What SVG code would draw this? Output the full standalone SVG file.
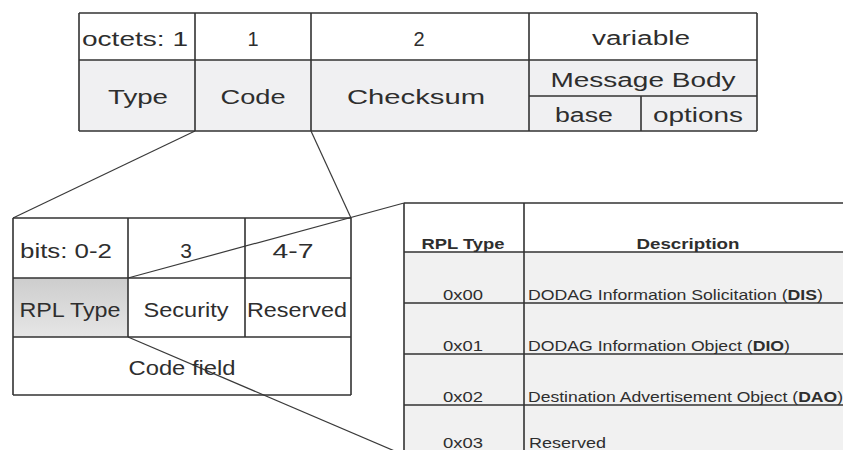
<svg xmlns="http://www.w3.org/2000/svg" width="843" height="450" viewBox="0 0 843 450">
<defs>
<style>
.ln{stroke:#333;stroke-width:1.6;fill:none}
.cn{stroke:#3a3a3a;stroke-width:1.2;fill:none}
.t{font-family:"Liberation Sans",Arial,sans-serif;fill:#2e2e2e;text-anchor:middle}
.big{font-size:20px}
.mid{font-size:21px}
.sm{font-size:15px}
.b{font-weight:bold}
.st{text-anchor:start}
</style>
<linearGradient id="gr" x1="0" y1="0" x2="0" y2="1">
<stop offset="0" stop-color="#cdcdcd"/>
<stop offset="1" stop-color="#e6e6e6"/>
</linearGradient>
</defs>
<rect width="843" height="450" fill="#fff"/>

<g id="connectors">
<line class="cn" x1="195" y1="131" x2="13" y2="218"/>
<line class="cn" x1="311" y1="131" x2="351" y2="218"/>
<line class="cn" x1="128" y1="278" x2="404" y2="203"/>
<line class="cn" x1="128" y1="337" x2="404" y2="455"/>
</g>

<g id="icmp-header">
<rect x="79" y="60" width="678" height="71" fill="#f0f0f2"/>
<path class="ln" d="M79 13H757M79 60H757M79 131H757M529 96H757M79 13V131M195 13V131M311 13V131M529 13V131M757 13V131M641 96V131"/>
<text class="t big" x="135" y="46" textLength="106" lengthAdjust="spacingAndGlyphs">octets: 1</text>
<text class="t big" x="253" y="46">1</text>
<text class="t big" x="419" y="46">2</text>
<text class="t big" x="641" y="45" textLength="98" lengthAdjust="spacingAndGlyphs">variable</text>
<text class="t big" x="138" y="104" textLength="60" lengthAdjust="spacingAndGlyphs">Type</text>
<text class="t big" x="253" y="104" textLength="65" lengthAdjust="spacingAndGlyphs">Code</text>
<text class="t big" x="416" y="104" textLength="138" lengthAdjust="spacingAndGlyphs">Checksum</text>
<text class="t big" x="643" y="87" textLength="185" lengthAdjust="spacingAndGlyphs">Message Body</text>
<text class="t big" x="584" y="122" textLength="58" lengthAdjust="spacingAndGlyphs">base</text>
<text class="t big" x="698" y="122" textLength="90" lengthAdjust="spacingAndGlyphs">options</text>
</g>

<g id="code-field">
<rect x="13" y="278" width="115" height="59" fill="url(#gr)"/>
<path class="ln" d="M13 218H351M13 278H351M13 337H351M13 395H351M13 218V395M351 218V395M128 218V337M245 218V337"/>
<text class="t mid" x="66" y="258" textLength="92" lengthAdjust="spacingAndGlyphs">bits: 0-2</text>
<text class="t mid" x="186" y="258">3</text>
<text class="t mid" x="293" y="258" textLength="41" lengthAdjust="spacingAndGlyphs">4-7</text>
<text class="t mid" x="70" y="317" textLength="101" lengthAdjust="spacingAndGlyphs">RPL Type</text>
<text class="t mid" x="186" y="317" textLength="85" lengthAdjust="spacingAndGlyphs">Security</text>
<text class="t mid" x="297" y="317" textLength="100" lengthAdjust="spacingAndGlyphs">Reserved</text>
<text class="t mid" x="182" y="375" textLength="107" lengthAdjust="spacingAndGlyphs">Code field</text>
</g>

<g id="rpl-type-table">
<rect x="404" y="252" width="448" height="200" fill="#f1f1f1"/>
<path class="ln" d="M404 203H852M404 252H852M404 303H852M404 354H852M404 405H852M404 203V452M524 203V452"/>
<text class="t sm b" x="463" y="249" textLength="83" lengthAdjust="spacingAndGlyphs">RPL Type</text>
<text class="t sm b" x="688" y="249" textLength="103" lengthAdjust="spacingAndGlyphs">Description</text>
<text class="t sm" x="463" y="300" textLength="40" lengthAdjust="spacingAndGlyphs">0x00</text>
<text class="t sm st" x="528" y="300" textLength="295" lengthAdjust="spacingAndGlyphs">DODAG Information Solicitation (<tspan class="b">DIS</tspan>)</text>
<text class="t sm" x="463" y="351" textLength="40" lengthAdjust="spacingAndGlyphs">0x01</text>
<text class="t sm st" x="528" y="351" textLength="262" lengthAdjust="spacingAndGlyphs">DODAG Information Object (<tspan class="b">DIO</tspan>)</text>
<text class="t sm" x="463" y="402" textLength="40" lengthAdjust="spacingAndGlyphs">0x02</text>
<text class="t sm st" x="528" y="402" textLength="315" lengthAdjust="spacingAndGlyphs">Destination Advertisement Object (<tspan class="b">DAO</tspan>)</text>
<text class="t sm" x="463" y="448" textLength="40" lengthAdjust="spacingAndGlyphs">0x03</text>
<text class="t sm st" x="529" y="448" textLength="77" lengthAdjust="spacingAndGlyphs">Reserved</text>
</g>
</svg>
